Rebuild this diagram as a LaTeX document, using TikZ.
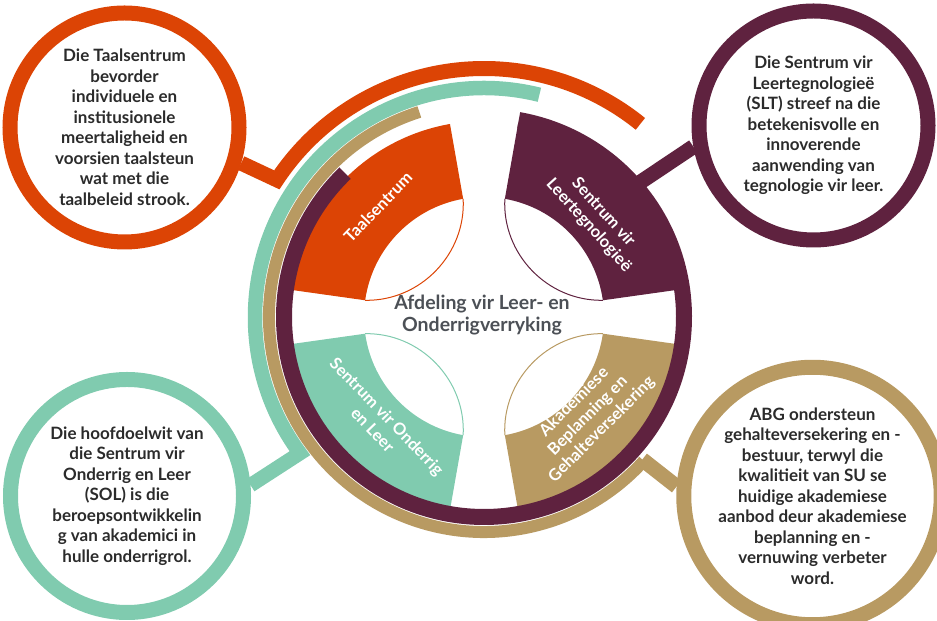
\documentclass[tikz,border=0pt]{standalone}
\usepackage{fontspec}
\setmainfont{Lato}
\usepackage{xcolor}
\usetikzlibrary{positioning, calc}

\definecolor{taalorange}{RGB}{220,68,5}
\definecolor{sltmaroon}{RGB}{95,34,63}
\definecolor{solteal}{RGB}{128,203,175}
\definecolor{abggold}{RGB}{184,154,98}
\definecolor{textdark}{RGB}{43,43,43}
\definecolor{centergray}{RGB}{76,80,86}

\begin{document}
\begin{tikzpicture}[x=1bp, y=1bp,
  infocircle/.style={circle, draw, line width=15bp, minimum size=229bp, inner sep=0pt,
    align=center, text=textdark, font=\fontsize{17bp}{20.5bp}\selectfont\bfseries},
  ringline/.style={line width=15bp},
  lensline/.style={line width=1bp},
  petallabel/.style={text=white, align=center, font=\fontsize{16.5bp}{19.5bp}\selectfont\bfseries},
  centertext/.style={text=centergray, align=center, font=\fontsize{19.5bp}{22bp}\selectfont\bfseries}]

  \useasboundingbox (0,0) rectangle (937,621);
  \coordinate (C) at (484,304);

  % Info circles
  \node[infocircle, draw=taalorange] (taalinfo) at (124.5,493.5)
    {Die Taalsentrum\\bevorder\\individuele en\\institusionele\\meertaligheid en\\voorsien taalsteun\\wat met die\\taalbeleid strook.};
  \node[infocircle, draw=sltmaroon] (sltinfo) at (813.5,495.5)
    {Die Sentrum vir\\Leertegnologieë\\(SLT) streef na die\\betekenisvolle en\\innoverende\\aanwending van\\tegnologie vir leer.};
  \node[infocircle, draw=solteal, minimum size=233bp] (solinfo) at (127,125)
    {Die hoofdoelwit van\\die Sentrum vir\\Onderrig en Leer\\(SOL) is die\\beroepsontwikkelin\\g van akademici in\\hulle onderrigrol.};
  \node[infocircle, draw=abggold, minimum size=233bp] (abginfo) at (812.5,125)
    {ABG ondersteun\\gehalteversekering en -\\bestuur, terwyl die\\kwalitieit van SU se\\huidige akademiese\\aanbod deur akademiese\\beplanning en -\\vernuwing verbeter\\word.};

  % Ring feet where the connectors meet
  \coordinate (taalfoot) at ($(C)+(146.5:248.5)$);
  \coordinate (solfoot) at ($(C)+(216.5:229)$);
  \coordinate (abgfoot) at ($(C)+(-42:213)$);
  \coordinate (sltfoot) at ($(C)+(41:200)$);

  % Outer rings with their connectors
  \draw[ringline, taalorange] (taalinfo.-17) -- (taalfoot)
    arc[start angle=146.5, end angle=51, radius=248.5];
  \draw[ringline, solteal, line width=14.5bp] (solinfo.5) -- (solfoot)
    arc[start angle=216.5, end angle=76, radius=229];
  \draw[ringline, abggold, line width=12bp] ($(C)+(107.5:215)$)
    arc[start angle=107.5, end angle=318, radius=215];
  \draw[ringline, abggold] (abgfoot) -- (abginfo.176);
  \draw[ringline, sltmaroon] (sltfoot) -- (sltinfo.190);

  % Petals
  \fill[taalorange] ($(C)+(100:196)$) arc[start angle=100, end angle=172, radius=196]
    -- ($(C)+(172:120)$) arc[start angle=172, end angle=100, radius=120] -- cycle;
  \fill[sltmaroon] ($(C)+(8:196)$) arc[start angle=8, end angle=80, radius=196]
    -- ($(C)+(80:120)$) arc[start angle=80, end angle=8, radius=120] -- cycle;
  \fill[solteal] ($(C)+(188:196)$) arc[start angle=188, end angle=260, radius=196]
    -- ($(C)+(260:120)$) arc[start angle=260, end angle=188, radius=120] -- cycle;
  \fill[abggold] ($(C)+(280:196)$) arc[start angle=280, end angle=352, radius=196]
    -- ($(C)+(352:120)$) arc[start angle=352, end angle=280, radius=120] -- cycle;

  % Inner ring
  \draw[ringline, sltmaroon, line width=16bp] ($(C)+(134:200)$)
    arc[start angle=134, end angle=440, radius=200];

  % Lens outlines
  \draw[lensline, taalorange] ($(C)+(100:120)$) to[bend left=47] ($(C)+(172:120)$);
  \draw[lensline, sltmaroon] ($(C)+(8:120)$) to[bend left=47] ($(C)+(80:120)$);
  \draw[lensline, solteal] ($(C)+(188:120)$) to[bend left=47] ($(C)+(260:120)$);
  \draw[lensline, abggold] ($(C)+(280:120)$) to[bend left=47] ($(C)+(352:120)$);

  % Labels
  \node[petallabel, rotate=46] (taallabel) at (378,414) {Taalsentrum};
  \node[petallabel, rotate=-48] (sltlabel) at (596,402) {Sentrum vir\\Leertegnologieë};
  \node[petallabel, rotate=-46] (sollabel) at (380,198) {Sentrum vir Onderrig\\en Leer};
  \node[petallabel, rotate=45] (abglabel) at (588,205) {Akademiese\\Beplanning en\\Gehalteversekering};
  \node[centertext] (afdeling) at (482,306) {Afdeling vir Leer- en\\Onderrigverryking};
\end{tikzpicture}
\end{document}
